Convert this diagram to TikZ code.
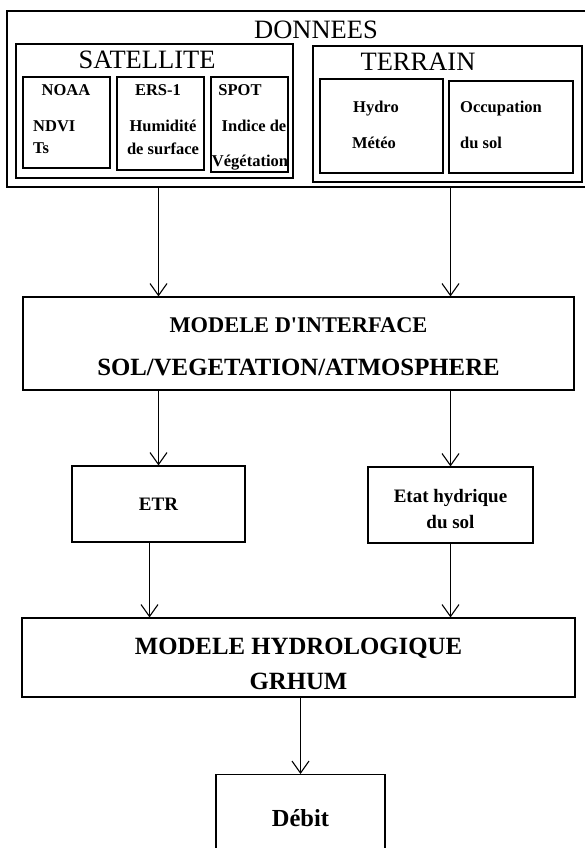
\documentclass[tikz,border=0pt]{standalone}
\usepackage{fontspec}
\setmainfont{Liberation Serif}
\usetikzlibrary{arrows.meta}

\tikzset{
  boite/.style={draw, line width=1.1pt, inner sep=0pt},
  fleche/.style={line width=1.1pt, -{Straight Barb[length=12pt,width=17pt,line width=1.1pt]}},
  titre/.style={font=\fontsize{26.5}{30}\selectfont, inner sep=0pt},
  petit/.style={font=\fontsize{16.5}{20}\selectfont\bfseries, inner sep=0pt},
  moyen/.style={font=\fontsize{19}{26}\selectfont\bfseries, align=center},
  grand/.style={align=center, font=\fontsize{24.8}{#1}\selectfont\bfseries},
}

\begin{document}
\begin{tikzpicture}[x=1pt, y=-1pt]
	\useasboundingbox (0,0) rectangle (585,848);
	% donnees
	\node[boite, minimum width=585pt, minimum height=176pt] (D) at (299.5,99) {};
	\node[titre] (Dt) at (316,30) {DONNEES};
	\node[boite, minimum width=277pt, minimum height=134pt] (S) at (154.5,111) {};
	\node[titre] (St) at (147,60) {SATELLITE};
	\node[boite, minimum width=269pt, minimum height=136pt] (T) at (447.5,114) {};
	\node[titre] (Tt) at (418,62) {TERRAIN};
	% satellites
	\node[boite, minimum width=87pt, minimum height=91pt] (N) at (66.5,122.5) {};
	\node[petit] (N1) at (66,90) {NOAA};
	\node[petit, anchor=west] (N2) at (33,126) {NDVI};
	\node[petit, anchor=west] (N3) at (33,148) {Ts};
	\node[boite, minimum width=87pt, minimum height=93pt] (E) at (160.5,123.5) {};
	\node[petit] (E1) at (158,90) {ERS-1};
	\node[petit] (E2) at (163,126) {Humidité};
	\node[petit] (E3) at (163,149) {de surface};
	\node[boite, minimum width=77pt, minimum height=95pt] (P) at (249.5,124.5) {};
	\node[petit] (P1) at (240,90) {SPOT};
	\node[petit] (P2) at (254,126) {Indice de};
	\node[petit] (P3) at (250,163) {Végétation};
	% terrain
	\node[boite, minimum width=123pt, minimum height=94pt] (Hm) at (381.5,126) {};
	\node[petit] (Hm1) at (376,109) {Hydro};
	\node[petit] (Hm2) at (374,143) {Météo};
	\node[boite, minimum width=124pt, minimum height=92pt] (O) at (511,127) {};
	\node[petit, anchor=west] (O1) at (460,109) {Occupation};
	\node[petit, anchor=west] (O2) at (460,143) {du sol};
	% modeles
	\node[boite, grand=43, minimum width=551pt, minimum height=93pt] (I) at (298.5,343.5)
		{\rule{0pt}{22pt}{\fontsize{22.4}{43}\selectfont MODELE D\textquotesingle INTERFACE}\\
		 SOL/VEGETATION/ATMOSPHERE};
	\node[boite, moyen, minimum width=173pt, minimum height=76pt] (R) at (158.5,504) {ETR};
	\node[boite, moyen, minimum width=165pt, minimum height=76pt] (Et) at (450.5,505)
		{\rule{0pt}{22pt}Etat hydrique\\du sol};
	\node[boite, grand=35, minimum width=553pt, minimum height=79pt] (H) at (298.5,657.5)
		{\rule{0pt}{29pt}MODELE HYDROLOGIQUE\\GRHUM};
	\node[boite, anchor=north, minimum width=169pt, text height=52pt, text depth=80pt,
		font=\fontsize{24.5}{28}\selectfont\bfseries] (B) at (300.5,774) {Débit};
	% fleches
	\draw[fleche] (D.south -| R.north) -- (I.north -| R.north);
	\draw[fleche] (D.south -| Et.north) -- (I.north -| Et.north);
	\draw[fleche] (I.south -| R.north) -- (R.north);
	\draw[fleche] (I.south -| Et.north) -- (Et.north);
	\draw[fleche] ([xshift=-9pt]R.south) -- ([xshift=-9pt]R.south |- H.north);
	\draw[fleche] (Et.south) -- (Et.south |- H.north);
	\draw[fleche] (H.south -| B.north) -- (B.north);
\end{tikzpicture}
\end{document}
